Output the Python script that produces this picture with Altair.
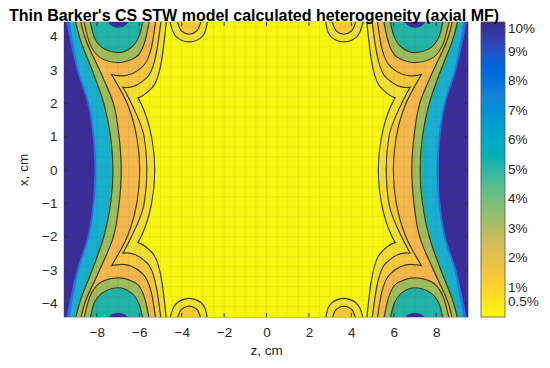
import altair as alt
import pandas as pd

TITLE = "Thin Barker's CS STW model calculated heterogeneity (axial MF)"
Z_TICKS = [-8, -6, -4, -2, 0, 2, 4, 6, 8]
X_TICKS = [-4, -3, -2, -1, 0, 1, 2, 3, 4]
CBAR_TICKS = [0.5, 1, 2, 3, 4, 5, 6, 7, 8, 9, 10]
CBAR_COLORS = ["#f9fb0e", "#fec832", "#d1bb59", "#87bf77", "#2eb7a4",
               "#06a4ca", "#1481d6", "#0f5cdd", "#352a87"]

# contour levels (%), band fill colours, whether a contour line is drawn
LEVELS = [0.5, 1, 2, 3, 4, 5, 7, 9]
LEVEL_FILL = ["#f2e035", "#f7ca3e", "#f4b84e", "#9fbc5f", "#22b3a6", "#19aecf",
              "#2b6ee4", "#3a2d97"]
LEVEL_LINE = [True, True, True, True, True, False, False, False]
BASE_FILL = "#f7f612"
LINE_COLOR = "#3d3a12"

# computational mesh (faint grid visible in the picture)
MESH_Z = [-9.5 + 0.5 * i for i in range(39)]
MESH_X = [-4.4 + 0.3 * i for i in range(30)]

# left-side level boundaries: z (cm) read at x = SIDE_X (symmetric in x and z)
SIDE_X = [0, 1, 2, 3, 4, 4.5]
SIDE_Z = [
    [-5.30, -5.45, -5.95, -6.95, -7.85, -8.05],
    [-5.67, -5.80, -6.40, -7.25, -8.10, -8.30],
    [-6.01, -6.15, -6.60, -7.45, -8.30, -8.55],
    [-6.88, -6.98, -7.25, -7.90, -8.60, -8.80],
    [-7.27, -7.38, -7.70, -8.25, -8.85, -9.05],
    [-7.43, -7.50, -7.75, -8.35, -8.90, -9.15],
    [-8.03, -8.11, -8.36, -8.85, -9.17, -9.30],
    [-8.12, -8.20, -8.45, -8.95, -9.30, -9.45],
]

# corner lobes (top-left copy): arch z and x per level
BIG_LOBE = {
    0.5: ([-9.2, -8.6, -7.4, -6.4, -5.4, -4.95, -4.75], [4.5, 2.9, 2.25, 2.15, 2.5, 3.4, 4.5]),
    1:   ([-9.0, -8.5, -7.5, -6.6, -5.65, -5.2, -5.0], [4.5, 3.2, 2.6, 2.5, 2.8, 3.6, 4.5]),
    2:   ([-8.8, -8.4, -7.6, -6.8, -5.9, -5.45, -5.25], [4.5, 3.5, 2.95, 2.85, 3.1, 3.7, 4.5]),
    3:   ([-8.6, -8.3, -7.7, -7.0, -6.2, -5.75, -5.55], [4.5, 3.8, 3.35, 3.25, 3.4, 3.9, 4.5]),
    4:   ([-8.3, -8.1, -7.6, -7.0, -6.4, -6.0, -5.85], [4.5, 4.0, 3.65, 3.55, 3.7, 4.1, 4.5]),
    9:   ([-7.55, -7.3, -7.0, -6.7, -6.45], [4.5, 4.33, 4.28, 4.33, 4.5]),
}
SMALL_LOBE = {
    0.5: ([-4.55, -4.35, -4.0, -3.65, -3.3, -2.95, -2.8], [4.5, 4.12, 3.92, 3.87, 3.92, 4.12, 4.5]),
    1:   ([-4.2, -4.0, -3.65, -3.3, -3.1], [4.5, 4.2, 4.1, 4.2, 4.5]),
}

W, H = 404, 295
XS = alt.Scale(domain=[-9.55, 9.5], nice=False, zero=False)
YS = alt.Scale(domain=[-4.41, 4.45], nice=False, zero=False)
AX_STYLE = dict(grid=False, ticks=False, domain=False, labelFontSize=13.5, titleFontSize=13.5,
                titleFontWeight="normal", labelColor="#262626", titleColor="#262626",
                labelFont="Liberation Sans", titleFont="Liberation Sans")
X_AX = alt.Axis(values=Z_TICKS, title="z, cm", labelPadding=8, titlePadding=5, **AX_STYLE)
Y_AX = alt.Axis(values=X_TICKS, title="x, cm", labelPadding=7, titlePadding=11, **AX_STYLE)


def side_rows():
    rows = []
    full_x = [-v for v in reversed(SIDE_X)] + SIDE_X[1:]
    for lev, zs in zip(LEVELS, SIDE_Z):
        full_z = list(reversed(zs)) + zs[1:]
        for sgn, name, edge in ((1, "L", -9.8), (-1, "R", 9.8)):
            for xv, zv in zip(full_x, full_z):
                rows.append({"level": lev, "shape": name, "x": xv, "z": sgn * zv, "edge": edge})
    return pd.DataFrame(rows)


def lobe_rows():
    rows = []
    for tag, lobes in (("big", BIG_LOBE), ("small", SMALL_LOBE)):
        for lev, (zs, xs) in lobes.items():
            for sz in (1, -1):
                for sx in (1, -1):
                    name = f"{tag}{sz}{sx}"
                    for zv, xv in zip(zs, xs):
                        rows.append({"level": lev, "shape": name, "z": sz * zv,
                                     "x": sx * xv, "base": sx * 4.7})
    return pd.DataFrame(rows)


SIDE = side_rows()
LOBE = lobe_rows()


def enc_side(ch):
    return ch.encode(
        y=alt.Y("x:Q", scale=YS, axis=Y_AX),
        x=alt.X("z:Q", scale=XS, axis=X_AX),
        x2="edge:Q",
        detail="shape:N",
    )


def enc_lobe(ch):
    return ch.encode(
        x=alt.X("z:Q", scale=XS, axis=X_AX),
        y=alt.Y("x:Q", scale=YS, axis=Y_AX),
        y2="base:Q",
        detail="shape:N",
    )


layers = []
bg = alt.Chart(pd.DataFrame({"z": [-9.55], "z2": [9.5], "x": [-4.41], "x2": [4.45]})).mark_rect(
    color=BASE_FILL).encode(
    x=alt.X("z:Q", scale=XS, axis=X_AX), x2="z2:Q",
    y=alt.Y("x:Q", scale=YS, axis=Y_AX), y2="x2:Q")
layers.append(bg)

for lev, fill, lined in zip(LEVELS, LEVEL_FILL, LEVEL_LINE):
    sd = SIDE[SIDE.level == lev]
    ld = LOBE[LOBE.level == lev] if lev in LOBE.level.values else LOBE.iloc[0:0]
    if lined:
        layers.append(enc_side(alt.Chart(sd).mark_area(
            orient="horizontal", interpolate="monotone", clip=True,
            fillOpacity=0, stroke=LINE_COLOR, strokeWidth=2.4)))
        if len(ld):
            layers.append(enc_lobe(alt.Chart(ld).mark_area(
                orient="vertical", interpolate="monotone", clip=True,
                fillOpacity=0, stroke=LINE_COLOR, strokeWidth=2.4)))
    layers.append(enc_side(alt.Chart(sd).mark_area(
        orient="horizontal", interpolate="monotone", clip=True, color=fill)))
    if len(ld):
        layers.append(enc_lobe(alt.Chart(ld).mark_area(
            orient="vertical", interpolate="monotone", clip=True, color=fill)))

# faint mesh
mesh_style = dict(color="#5a5a00", strokeWidth=0.6, opacity=0.12)
layers.append(alt.Chart(pd.DataFrame({"z": MESH_Z})).mark_rule(**mesh_style).encode(
    x=alt.X("z:Q", scale=XS, axis=X_AX), y=alt.value(0), y2=alt.value(H)))
layers.append(alt.Chart(pd.DataFrame({"x": MESH_X})).mark_rule(**mesh_style).encode(
    y=alt.Y("x:Q", scale=YS, axis=Y_AX), x=alt.value(0), x2=alt.value(W)))

zt = pd.DataFrame({"z": Z_TICKS})
xt = pd.DataFrame({"x": X_TICKS})
tick_style = dict(color="#333333", strokeWidth=1)
layers.append(alt.Chart(zt).mark_rule(**tick_style).encode(
    x=alt.X("z:Q", scale=XS, axis=X_AX), y=alt.value(0), y2=alt.value(4)))
layers.append(alt.Chart(zt).mark_rule(**tick_style).encode(
    x=alt.X("z:Q", scale=XS, axis=X_AX), y=alt.value(H), y2=alt.value(H - 4)))
layers.append(alt.Chart(xt).mark_rule(**tick_style).encode(
    y=alt.Y("x:Q", scale=YS, axis=Y_AX), x=alt.value(0), x2=alt.value(4)))
layers.append(alt.Chart(xt).mark_rule(**tick_style).encode(
    y=alt.Y("x:Q", scale=YS, axis=Y_AX), x=alt.value(W), x2=alt.value(W - 4)))

cb = alt.Chart(pd.DataFrame({"v": [0, 10]})).mark_point(opacity=0).encode(
    x=alt.value(0), y=alt.value(0),
    color=alt.Color("v:Q", scale=alt.Scale(domain=[0, 10], range=CBAR_COLORS),
                    legend=alt.Legend(title=None, orient="right", offset=13,
                                      direction="vertical",
                                      gradientLength=H, gradientThickness=24,
                                      values=CBAR_TICKS,
                                      labelExpr="datum.value + '%'",
                                      labelFontSize=13.5, labelColor="#262626",
                                      labelFont="Liberation Sans",
                                      labelOverlap=False, labelOffset=3,
                                      gradientStrokeColor="#555555",
                                      gradientStrokeWidth=0.8, padding=0)))
layers.append(cb)

chart = alt.layer(*layers).properties(
    width=W, height=H,
    title=alt.TitleParams(TITLE, fontSize=16, fontWeight="bold", font="Liberation Sans",
                          color="#000000", anchor="middle", dx=-12, offset=-5),
    autosize=alt.AutoSizeParams(type="none"),
    padding={"left": 56, "top": 14, "right": 74, "bottom": 43},
).configure_view(stroke="#555555", strokeWidth=0.6)

chart.save("out.html", embed_options={"renderer": "svg", "actions": False})
